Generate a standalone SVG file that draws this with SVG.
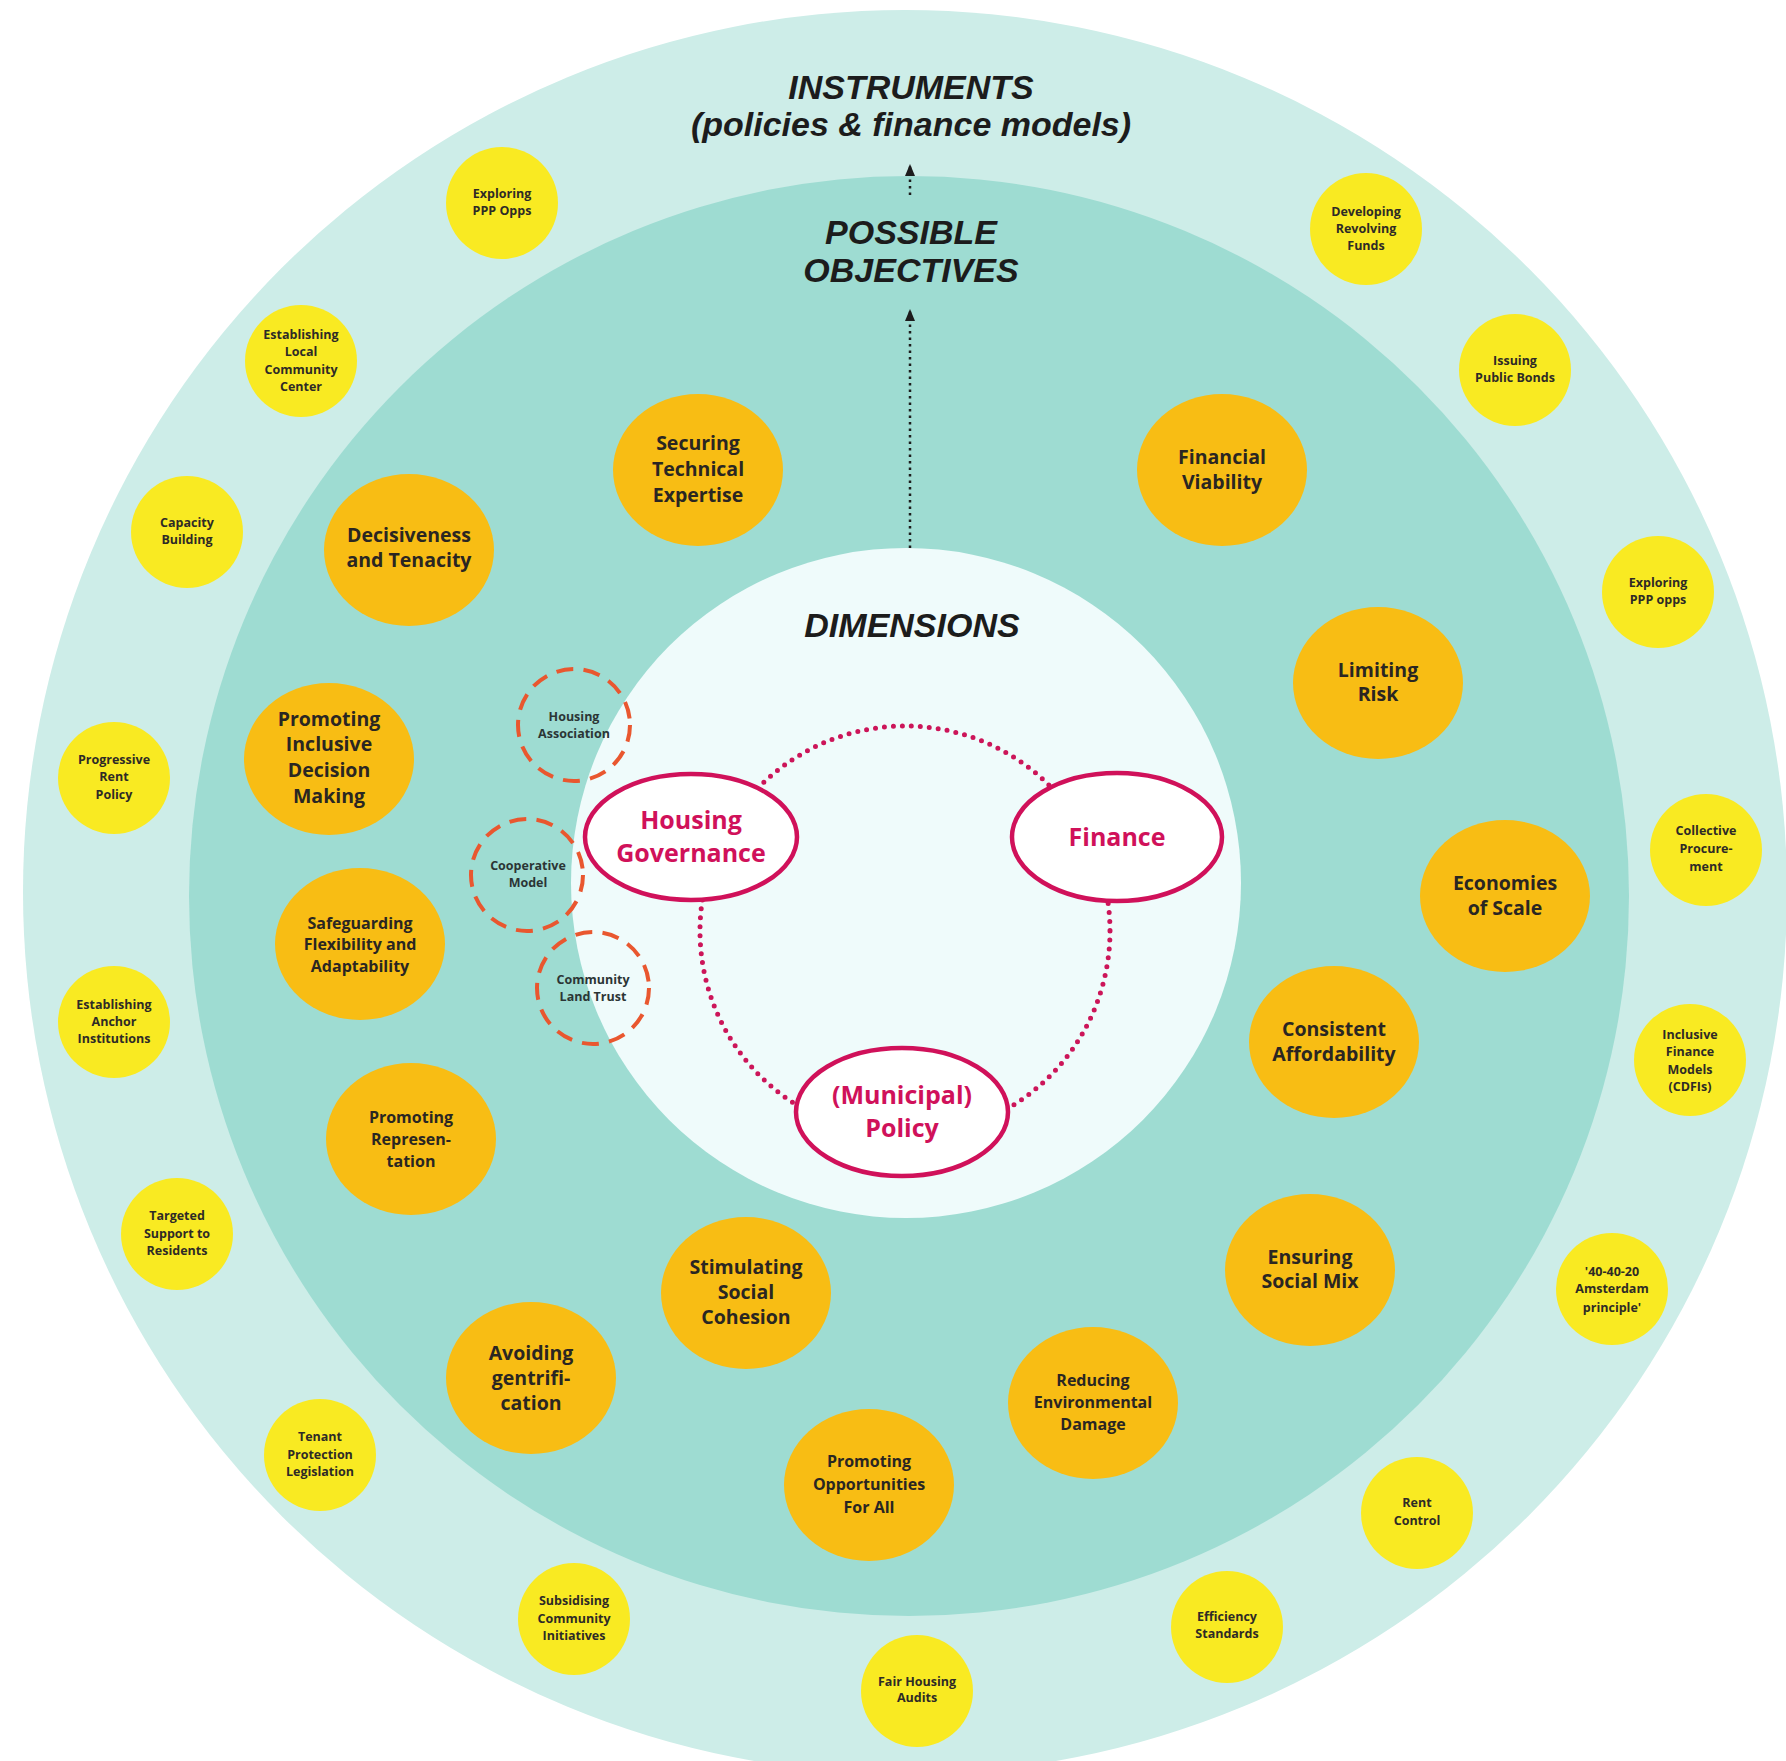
<svg xmlns="http://www.w3.org/2000/svg" width="1786" height="1761" viewBox="0 0 1786 1761">
<defs>
<style>
.title{font-family:"Liberation Sans",Arial,sans-serif;font-weight:700;font-style:italic;font-size:34px;fill:#1c1c1c;text-anchor:middle}
.obj ellipse{fill:#f8bd14}
.obj text{font-family:"Open Sans","Noto Sans",sans-serif;font-weight:700;font-size:19.5px;fill:#2a2622;text-anchor:middle}
.obj text.sm{font-size:16px}
.ins circle{fill:#f9ea22}
.ins text{font-family:"Open Sans","Noto Sans",sans-serif;font-weight:700;font-size:12.5px;fill:#2e2a26;text-anchor:middle}
.dim ellipse{fill:#ffffff;stroke:#d0115a;stroke-width:4.5}
.dim text{font-family:"Open Sans","Noto Sans",sans-serif;font-weight:700;font-size:25px;fill:#d0115a;text-anchor:middle}
.org circle{fill:none;stroke:#e9572f;stroke-width:4;stroke-dasharray:17 10.3}
.org text{font-family:"Open Sans","Noto Sans",sans-serif;font-weight:700;font-size:12.5px;fill:#2b3535;text-anchor:middle}
.dots{fill:none;stroke:#cc1559;stroke-width:5;stroke-linecap:round;stroke-dasharray:0 9}
.blk{fill:none;stroke:#1c1c1c;stroke-width:2.5;stroke-dasharray:2.5 4}
</style>
<marker id="ah" viewBox="0 0 12 10" refX="11" refY="5" markerWidth="12" markerHeight="10" markerUnits="userSpaceOnUse" orient="auto">
<path d="M0,0 L12,5 L0,10 Z" fill="#1c1c1c"/>
</marker>
</defs>
<rect width="1786" height="1761" fill="#ffffff"/>
<g id="rings">
<circle cx="905" cy="892" r="882" fill="#cdede8"/>
<circle cx="909" cy="896" r="720" fill="#9edcd2"/>
<circle cx="906" cy="883" r="335" fill="#effbfb"/>
</g>
<g id="titles">
<text class="title" x="911" y="99">INSTRUMENTS</text>
<text class="title" x="911" y="136">(policies &amp; finance models)</text>
<text class="title" x="911" y="244">POSSIBLE</text>
<text class="title" x="911" y="282">OBJECTIVES</text>
<text class="title" x="912" y="637">DIMENSIONS</text>
</g>
<g id="connectors">
<path class="blk" d="M910,548 L910,310" marker-end="url(#ah)"/>
<path class="blk" d="M910,195 L910,165" marker-end="url(#ah)"/>
<circle class="dots" cx="905" cy="931" r="205"/>
</g>
<g id="dimensions" class="dim">
<g id="dim-housing-governance"><ellipse cx="691" cy="837" rx="106" ry="63"/><text x="691" y="829">Housing</text><text x="691" y="862">Governance</text></g>
<g id="dim-finance"><ellipse cx="1117" cy="837" rx="105" ry="64"/><text x="1117" y="846">Finance</text></g>
<g id="dim-policy"><ellipse cx="902" cy="1112" rx="106" ry="64"/><text x="902" y="1104">(Municipal)</text><text x="902" y="1137">Policy</text></g>
</g>
<g id="organisations" class="org">
<g id="org-housing-association"><circle cx="574" cy="725" r="56"/><text x="574" y="721">Housing</text><text x="574" y="738">Association</text></g>
<g id="org-cooperative-model"><circle cx="527" cy="875" r="56"/><text x="528" y="870">Cooperative</text><text x="528" y="887">Model</text></g>
<g id="org-community-land-trust"><circle cx="593" cy="988" r="56"/><text x="593" y="984">Community</text><text x="593" y="1001">Land Trust</text></g>
</g>
<g id="objectives" class="obj">
<g id="obj-securing"><ellipse cx="698" cy="470" rx="85" ry="76"/><text x="698" y="450">Securing</text><text x="698" y="476">Technical</text><text x="698" y="502">Expertise</text></g>
<g id="obj-financial-viability"><ellipse cx="1222" cy="470" rx="85" ry="76"/><text x="1222" y="464">Financial</text><text x="1222" y="489">Viability</text></g>
<g id="obj-decisiveness"><ellipse cx="409" cy="550" rx="85" ry="76"/><text x="409" y="542">Decisiveness</text><text x="409" y="567">and Tenacity</text></g>
<g id="obj-limiting-risk"><ellipse cx="1378" cy="683" rx="85" ry="76"/><text x="1378" y="677">Limiting</text><text x="1378" y="701">Risk</text></g>
<g id="obj-inclusive-decision"><ellipse cx="329" cy="759" rx="85" ry="76"/><text x="329" y="726">Promoting</text><text x="329" y="751">Inclusive</text><text x="329" y="777">Decision</text><text x="329" y="803">Making</text></g>
<g id="obj-economies"><ellipse cx="1505" cy="896" rx="85" ry="76"/><text x="1505" y="890">Economies</text><text x="1505" y="915">of Scale</text></g>
<g id="obj-safeguarding"><ellipse cx="360" cy="944" rx="85" ry="76"/><text class="sm" x="360" y="929">Safeguarding</text><text class="sm" x="360" y="950">Flexibility and</text><text class="sm" x="360" y="972">Adaptability</text></g>
<g id="obj-affordability"><ellipse cx="1334" cy="1042" rx="85" ry="76"/><text x="1334" y="1036">Consistent</text><text x="1334" y="1061">Affordability</text></g>
<g id="obj-representation"><ellipse cx="411" cy="1139" rx="85" ry="76"/><text class="sm" x="411" y="1123">Promoting</text><text class="sm" x="411" y="1145">Represen-</text><text class="sm" x="411" y="1167">tation</text></g>
<g id="obj-social-mix"><ellipse cx="1310" cy="1270" rx="85" ry="76"/><text x="1310" y="1264">Ensuring</text><text x="1310" y="1288">Social Mix</text></g>
<g id="obj-cohesion"><ellipse cx="746" cy="1293" rx="85" ry="76"/><text x="746" y="1274">Stimulating</text><text x="746" y="1299">Social</text><text x="746" y="1324">Cohesion</text></g>
<g id="obj-gentrification"><ellipse cx="531" cy="1378" rx="85" ry="76"/><text x="531" y="1360">Avoiding</text><text x="531" y="1385">gentrifi-</text><text x="531" y="1410">cation</text></g>
<g id="obj-environment"><ellipse cx="1093" cy="1403" rx="85" ry="76"/><text class="sm" x="1093" y="1386">Reducing</text><text class="sm" x="1093" y="1408">Environmental</text><text class="sm" x="1093" y="1430">Damage</text></g>
<g id="obj-opportunities"><ellipse cx="869" cy="1485" rx="85" ry="76"/><text class="sm" x="869" y="1467">Promoting</text><text class="sm" x="869" y="1490">Opportunities</text><text class="sm" x="869" y="1513">For All</text></g>
</g>
<g id="instruments" class="ins">
<g id="ins-ppp-1"><circle cx="502" cy="203" r="56"/><text x="502" y="198">Exploring</text><text x="502" y="215">PPP Opps</text></g>
<g id="ins-revolving"><circle cx="1366" cy="229" r="56"/><text x="1366" y="216">Developing</text><text x="1366" y="233">Revolving</text><text x="1366" y="250">Funds</text></g>
<g id="ins-community-center"><circle cx="301" cy="361" r="56"/><text x="301" y="339">Establishing</text><text x="301" y="356">Local</text><text x="301" y="374">Community</text><text x="301" y="391">Center</text></g>
<g id="ins-bonds"><circle cx="1515" cy="370" r="56"/><text x="1515" y="365">Issuing</text><text x="1515" y="382">Public Bonds</text></g>
<g id="ins-capacity"><circle cx="187" cy="532" r="56"/><text x="187" y="527">Capacity</text><text x="187" y="544">Building</text></g>
<g id="ins-ppp-2"><circle cx="1658" cy="592" r="56"/><text x="1658" y="587">Exploring</text><text x="1658" y="604">PPP opps</text></g>
<g id="ins-rent-policy"><circle cx="114" cy="778" r="56"/><text x="114" y="764">Progressive</text><text x="114" y="781">Rent</text><text x="114" y="799">Policy</text></g>
<g id="ins-procurement"><circle cx="1706" cy="850" r="56"/><text x="1706" y="835">Collective</text><text x="1706" y="853">Procure-</text><text x="1706" y="871">ment</text></g>
<g id="ins-anchor"><circle cx="114" cy="1022" r="56"/><text x="114" y="1009">Establishing</text><text x="114" y="1026">Anchor</text><text x="114" y="1043">Institutions</text></g>
<g id="ins-cdfi"><circle cx="1690" cy="1060" r="56"/><text x="1690" y="1039">Inclusive</text><text x="1690" y="1056">Finance</text><text x="1690" y="1074">Models</text><text x="1690" y="1091">(CDFIs)</text></g>
<g id="ins-targeted"><circle cx="177" cy="1234" r="56"/><text x="177" y="1220">Targeted</text><text x="177" y="1238">Support to</text><text x="177" y="1255">Residents</text></g>
<g id="ins-amsterdam"><circle cx="1612" cy="1289" r="56"/><text x="1612" y="1276">'40-40-20</text><text x="1612" y="1293">Amsterdam</text><text x="1612" y="1312">principle'</text></g>
<g id="ins-tenant"><circle cx="320" cy="1455" r="56"/><text x="320" y="1441">Tenant</text><text x="320" y="1459">Protection</text><text x="320" y="1476">Legislation</text></g>
<g id="ins-rent-control"><circle cx="1417" cy="1513" r="56"/><text x="1417" y="1507">Rent</text><text x="1417" y="1525">Control</text></g>
<g id="ins-subsidising"><circle cx="574" cy="1619" r="56"/><text x="574" y="1605">Subsidising</text><text x="574" y="1623">Community</text><text x="574" y="1640">Initiatives</text></g>
<g id="ins-efficiency"><circle cx="1227" cy="1627" r="56"/><text x="1227" y="1621">Efficiency</text><text x="1227" y="1638">Standards</text></g>
<g id="ins-fair-housing"><circle cx="917" cy="1691" r="56"/><text x="917" y="1686">Fair Housing</text><text x="917" y="1702">Audits</text></g>
</g>
</svg>
